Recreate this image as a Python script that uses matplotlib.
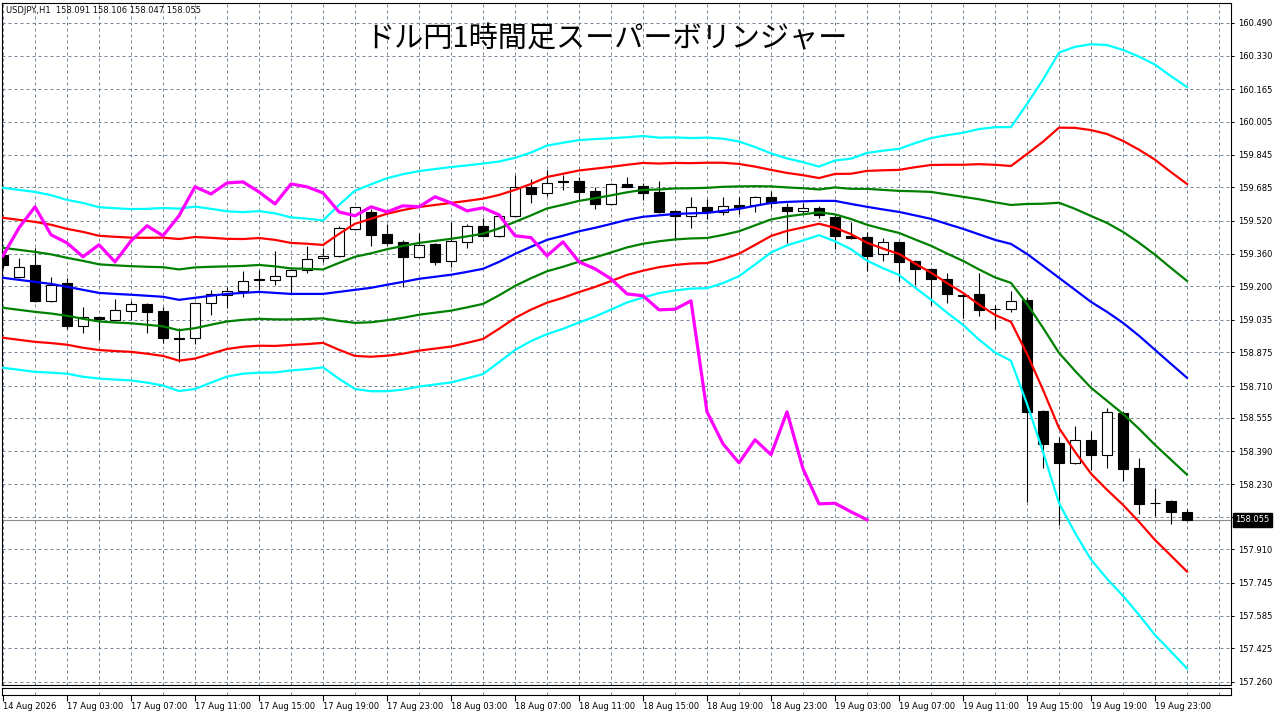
import matplotlib
matplotlib.use("Agg")
import matplotlib.pyplot as plt
import numpy as np

# USDJPY H1 candles, 14 Aug 23:00 .. 20 Aug 01:00 (75 bars)
opens = [159.354, 159.246, 159.305, 159.128, 159.216, 159.006, 159.050, 159.035, 159.079, 159.113,
         159.079, 158.947, 158.947, 159.118, 159.158, 159.177, 159.236, 159.231, 159.251, 159.280,
         159.339, 159.349, 159.481, 159.564, 159.456, 159.417, 159.344, 159.407, 159.324, 159.417,
         159.496, 159.447, 159.545, 159.687, 159.657, 159.714, 159.716, 159.667, 159.603, 159.701,
         159.692, 159.662, 159.569, 159.545, 159.589, 159.564, 159.599, 159.599, 159.638, 159.589,
         159.569, 159.584, 159.540, 159.447, 159.442, 159.358, 159.417, 159.324, 159.285, 159.236,
         159.158, 159.162, 159.089, 159.089, 159.133, 158.589, 158.432, 158.334, 158.447, 158.374,
         158.579, 158.310, 158.138, 158.148, 158.091]
highs = [159.368, 159.339, 159.388, 159.246, 159.241, 159.099, 159.055, 159.138, 159.128, 159.118,
         159.099, 158.996, 159.123, 159.182, 159.197, 159.275, 159.280, 159.373, 159.295, 159.398,
         159.388, 159.496, 159.589, 159.579, 159.505, 159.427, 159.461, 159.412, 159.515, 159.505,
         159.535, 159.550, 159.746, 159.726, 159.770, 159.746, 159.736, 159.687, 159.706, 159.736,
         159.706, 159.716, 159.572, 159.638, 159.628, 159.638, 159.638, 159.643, 159.667, 159.608,
         159.608, 159.594, 159.550, 159.515, 159.466, 159.437, 159.420, 159.327, 159.288, 159.265,
         159.160, 159.265, 159.109, 159.177, 159.148, 158.594, 158.462, 158.516, 158.491, 158.604,
         158.586, 158.359, 158.212, 158.150, 158.106]
lows = [159.290, 159.241, 159.123, 159.123, 158.991, 158.971, 158.937, 159.030, 159.035, 158.971,
        158.922, 158.829, 158.917, 159.060, 159.094, 159.148, 159.182, 159.207, 159.167, 159.265,
        159.319, 159.344, 159.476, 159.398, 159.403, 159.197, 159.339, 159.305, 159.295, 159.388,
        159.442, 159.440, 159.540, 159.608, 159.643, 159.672, 159.623, 159.579, 159.598, 159.685,
        159.623, 159.560, 159.427, 159.486, 159.530, 159.550, 159.554, 159.564, 159.584, 159.412,
        159.559, 159.535, 159.383, 159.432, 159.275, 159.324, 159.226, 159.207, 159.109, 159.118,
        159.045, 159.055, 158.991, 159.074, 158.143, 158.310, 158.031, 158.330, 158.300, 158.310,
        158.246, 158.084, 158.075, 158.035, 158.047]
closes = [159.305, 159.295, 159.128, 159.207, 159.006, 159.050, 159.040, 159.084, 159.113, 159.074,
          158.947, 158.942, 159.118, 159.162, 159.177, 159.226, 159.231, 159.251, 159.280, 159.334,
          159.349, 159.486, 159.589, 159.452, 159.412, 159.344, 159.403, 159.319, 159.422, 159.496,
          159.447, 159.545, 159.687, 159.652, 159.706, 159.711, 159.662, 159.603, 159.701, 159.687,
          159.657, 159.564, 159.545, 159.589, 159.564, 159.594, 159.589, 159.638, 159.608, 159.569,
          159.584, 159.550, 159.447, 159.438, 159.349, 159.417, 159.319, 159.285, 159.236, 159.162,
          159.153, 159.084, 159.087, 159.128, 158.584, 158.427, 158.334, 158.447, 158.374, 158.584,
          158.305, 158.133, 158.136, 158.094, 158.055]

# bollinger middle line and one sigma
bb_mid = [159.241, 159.231, 159.221, 159.211, 159.197, 159.182, 159.167, 159.162, 159.158, 159.153,
          159.148, 159.133, 159.143, 159.153, 159.162, 159.167, 159.172, 159.167, 159.162, 159.162,
          159.162, 159.172, 159.182, 159.192, 159.207, 159.221, 159.236, 159.246, 159.256, 159.270,
          159.285, 159.319, 159.358, 159.393, 159.427, 159.447, 159.469, 159.486, 159.505, 159.525,
          159.540, 159.547, 159.554, 159.557, 159.559, 159.569, 159.579, 159.594, 159.608, 159.613,
          159.616, 159.618, 159.618, 159.603, 159.589, 159.576, 159.564, 159.547, 159.530, 159.505,
          159.481, 159.454, 159.427, 159.407, 159.358, 159.300, 159.241, 159.182, 159.123, 159.074,
          159.020, 158.957, 158.888, 158.819, 158.751]
bb_sd = [0.147, 0.147, 0.147, 0.145, 0.142, 0.142, 0.140, 0.140, 0.140, 0.142,
         0.145, 0.149, 0.149, 0.142, 0.135, 0.132, 0.132, 0.130, 0.125, 0.123,
         0.120, 0.142, 0.162, 0.169, 0.174, 0.176, 0.176, 0.176, 0.176, 0.174,
         0.172, 0.164, 0.157, 0.154, 0.154, 0.152, 0.149, 0.145, 0.140, 0.135,
         0.132, 0.127, 0.125, 0.123, 0.123, 0.118, 0.110, 0.096, 0.081, 0.071,
         0.064, 0.056, 0.066, 0.074, 0.088, 0.096, 0.103, 0.118, 0.132, 0.145,
         0.157, 0.172, 0.184, 0.191, 0.245, 0.304, 0.368, 0.397, 0.421, 0.436,
         0.446, 0.456, 0.466, 0.470, 0.475]
chikou_shift = 20

ytick_vals = [160.490, 160.330, 160.165, 160.005, 159.845, 159.685, 159.520, 159.360, 159.200, 159.035,
              158.875, 158.710, 158.555, 158.390, 158.230, 158.070, 157.910, 157.745, 157.585, 157.425,
              157.260]
xtick_labels = ["14 Aug 2026", "17 Aug 03:00", "17 Aug 07:00", "17 Aug 11:00", "17 Aug 15:00",
                "17 Aug 19:00", "17 Aug 23:00", "18 Aug 03:00", "18 Aug 07:00", "18 Aug 11:00",
                "18 Aug 15:00", "18 Aug 19:00", "18 Aug 23:00", "19 Aug 03:00", "19 Aug 07:00",
                "19 Aug 11:00", "19 Aug 15:00", "19 Aug 19:00", "19 Aug 23:00"]

W, H = 1277, 716
plt.rcParams['font.family'] = ['DejaVu Sans']
grid_col = '#778899'

fig = plt.figure(figsize=(W / 100, H / 100), dpi=100)
fig.patch.set_facecolor('white')
ax = fig.add_axes([2 / W, 31 / H, 1229 / W, 682 / H])
ax2 = fig.add_axes([2 / W, 21 / H, 1229 / W, 7 / H])

o = np.array(opens)
h = np.array(highs)
l = np.array(lows)
c = np.array(closes)
x = np.arange(len(o))
mid = np.array(bb_mid)
sd = np.array(bb_sd)

xlim = (-1 / 16, 1228 / 16)
ax.set_xlim(*xlim)
ax.set_ylim(157.245, 160.588)

# grid
ax.set_xticks(np.arange(0, 77, 2))
ax.set_yticks(ytick_vals)
ax.grid(True, color=grid_col, linestyle=(0, (3, 3)), linewidth=0.72)
ax.tick_params(axis='x', length=0, labelbottom=False)
ax.yaxis.tick_right()
ax.tick_params(axis='y', length=2, width=0.72, pad=3, labelsize=6, colors='black')
ylabels = [f"{v:.3f}" for v in ytick_vals]
ylabels[ytick_vals.index(158.070)] = ''
ax.set_yticklabels(ylabels)

# current price line
ax.axhline(closes[-1], color='#8a8a8a', linewidth=0.8, zorder=1)

# candles
up = c >= o
ax.vlines(x, l, h, color='black', linewidth=0.8, zorder=2)
body_lo = np.minimum(o, c)
body_h = np.maximum(np.abs(c - o), 0.0015)
ax.bar(x[up], body_h[up], bottom=body_lo[up], width=0.66, color='white',
       edgecolor='black', linewidth=0.8, zorder=3)
ax.bar(x[~up], body_h[~up], bottom=body_lo[~up], width=0.66, color='black',
       edgecolor='black', linewidth=0.8, zorder=3)

# super bollinger bands
lw = 1.6
ax.plot(x, mid, color='#0000ff', linewidth=lw, zorder=4)
for k, col in [(1, '#008000'), (2, '#ff0000'), (3, '#00ffff')]:
    ax.plot(x, mid + k * sd, color=col, linewidth=lw, zorder=4)
    ax.plot(x, mid - k * sd, color=col, linewidth=lw, zorder=4)

# chikou span
ax.plot(x[:-chikou_shift], c[chikou_shift:], color='#ff00ff', linewidth=2.3, zorder=5)

for s in ax.spines.values():
    s.set_linewidth(0.8)

# price tag
ax.text(1.0 + 4 / 1229, closes[-1], f"{closes[-1]:.3f}", transform=ax.get_yaxis_transform(),
        ha='left', va='center', color='white', fontsize=6, clip_on=False, zorder=10,
        bbox=dict(boxstyle='square,pad=0.3', fc='black', ec='black'))

# lower strip with time axis
ax2.set_xlim(*xlim)
ax2.set_ylim(0, 1)
ax2.set_yticks([])
ax2.set_xticks(np.arange(0, 77, 2), minor=True)
ax2.set_xticks(np.arange(0, 73, 4))
ax2.set_xticklabels(xtick_labels)
ax2.grid(True, which='minor', axis='x', color=grid_col, linestyle=(0, (3, 3)), linewidth=0.72)
ax2.tick_params(axis='x', which='minor', length=0)
ax2.tick_params(axis='x', which='major', length=4, width=0.8, pad=1, labelsize=6)
for t in ax2.get_xticklabels():
    t.set_horizontalalignment('left')
for s in ax2.spines.values():
    s.set_linewidth(0.8)

fig.text(6 / W, 1 - 10.5 / H, "USDJPY,H1  158.091 158.106 158.047 158.055",
         fontsize=6, va='center', ha='left', color='#101010')
fig.text(606 / W, 1 - 39 / H, "ドル円1時間足スーパーボリンジャー",
         family=['Noto Sans CJK JP', 'DejaVu Sans'], fontsize=21, ha='center', va='center',
         color='black')

fig.savefig("out.png", dpi=100, facecolor='white')
